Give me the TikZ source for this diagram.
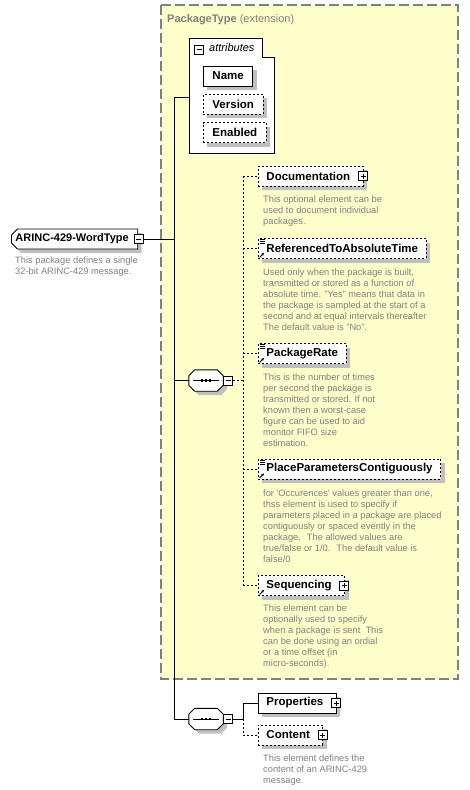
\documentclass[tikz,border=0pt]{standalone}
\usepackage{fontspec}
\setmainfont{Liberation Sans}
\usetikzlibrary{shapes.misc,shadows,arrows.meta}

\definecolor{extfill}{RGB}{255,255,204}
\definecolor{descgray}{RGB}{128,128,128}
\definecolor{shadegray}{RGB}{192,192,192}

\tikzset{
    shade/.style={drop shadow={shadow xshift=4pt, shadow yshift=-4pt, fill=shadegray, opacity=1}},
    elem/.style={draw, fill=white, line width=0.9pt, inner xsep=8pt, inner ysep=0pt,
        minimum height=20pt, anchor=west, shade, font=\bfseries\fontsize{11.5}{13}\selectfont},
    optelem/.style={elem, dash pattern=on 2pt off 2pt},
    attrelem/.style={elem, inner xsep=9pt},
    optattr/.style={attrelem, dash pattern=on 2pt off 2pt},
    root/.style={elem, chamfered rectangle, chamfered rectangle corners={north west,south west},
        chamfered rectangle xsep=3pt, chamfered rectangle ysep=3pt, inner xsep=1pt, font=\bfseries\fontsize{11}{13}\selectfont},
    seqbox/.style={inner sep=0pt, minimum width=34pt, minimum height=21pt},
    desc/.style={anchor=north west, inner sep=0pt, align=left, text=descgray,
        font=\fontsize{9.3}{11}\selectfont},
    pmbox/.style={draw, fill=white, line width=0.8pt, minimum size=9pt, inner sep=0pt},
    minus/.style={pmbox, path picture={\draw[line width=0.8pt] ([xshift=2pt]path picture bounding box.west) -- ([xshift=-2pt]path picture bounding box.east);}},
    plus/.style={pmbox, path picture={\draw[line width=0.8pt] ([xshift=2pt]path picture bounding box.west) -- ([xshift=-2pt]path picture bounding box.east)
        ([yshift=-2pt]path picture bounding box.north) -- ([yshift=2pt]path picture bounding box.south);}},
    conn/.style={line width=0.9pt},
    optconn/.style={conn, dash pattern=on 2pt off 2pt}
}

\newcommand{\arrowmark}[1]{\draw[line width=0.8pt, -{Stealth[length=3pt,width=3pt]}] ([shift={(1.5,-1.5)}]#1.south west) -- +(4.5,-4.5);}
\newcommand{\refmark}[1]{%
    \draw[line width=0.6pt] ([shift={(2,1.5)}]#1.north west) -- +(5,0)
        ([shift={(2,3.5)}]#1.north west) -- +(5,0) ([shift={(2,5.5)}]#1.north west) -- +(5,0);
    \arrowmark{#1}}
\newcommand{\seqicon}[1]{%
    \draw[line width=0.9pt, fill=white, shade] ([xshift=6pt]#1.north west) -- ([xshift=-6pt]#1.north east)
        -- ([yshift=-6pt]#1.north east) -- ([yshift=6pt]#1.south east) -- ([xshift=-6pt]#1.south east)
        -- ([xshift=6pt]#1.south west) -- ([yshift=6pt]#1.south west) -- ([yshift=-6pt]#1.north west) -- cycle;
    \draw[line width=0.8pt] ([xshift=4pt]#1.west) -- ([xshift=-4pt]#1.east);
    \foreach \dx in {-4,0,4} \fill ([xshift=\dx pt]#1.center) +(-1.2,-1.2) rectangle +(1.2,1.2);}

\begin{document}
\begin{tikzpicture}[x=1pt, y=-1pt]
    \useasboundingbox (0,0) rectangle (469,790);

    % extension frame
    \draw[draw=descgray, line width=1.2pt, dash pattern=on 10pt off 4pt, fill=extfill] (161,5) rectangle (458,679);
    \node[anchor=west, inner sep=0pt, text=descgray, font=\fontsize{11}{13}\selectfont] (title) at (167,19.5) {\bfseries PackageType \mdseries(extension)};

    % attributes
    \draw[line width=0.9pt, fill=white] (189,38) -- (262,38) -- (262,57) -- (274,57) -- (274,153) -- (189,153) -- cycle;
    \coordinate (attrs) at (189,97);
    \node[minus] (attrm) at (199,49.5) {};
    \node[anchor=west, inner sep=0pt, font=\itshape\fontsize{11}{13}\selectfont] (attrt) at (209,48) {attributes};
    \node[attrelem] (name) at (203,76) {Name};
    \node[optattr] (version) at (203,104) {Version};
    \node[optattr] (enabled) at (203,132.5) {Enabled};

    % root element
    \node[root] (arinc) at (11,239) {ARINC-429-WordType\kern5pt};
    \node[minus] (arincm) at ([xshift=0.5pt]arinc.east) {};
    \node[desc] (arincd) at (15,257) {This package defines a single\\32-bit ARINC-429 message.};

    % sequences
    \node[seqbox] (seqa) at (206,380.5) {};
    \seqicon{seqa}
    \node[minus, anchor=west] (seqam) at (seqa.east) {};
    \node[seqbox] (seqb) at (206,719) {};
    \seqicon{seqb}
    \node[minus, anchor=west] (seqbm) at (seqb.east) {};

    % child elements
    \node[optelem] (doc) at (258,176) {Documentation\kern5pt};
    \node[plus] (docp) at ([xshift=-0.5pt]doc.east) {};
    \node[desc] (docd) at (263,196) {This optional element can be\\used to document individual\\packages.};

    \node[optelem] (rta) at (258,248.5) {ReferencedToAbsoluteTime};
    \refmark{rta}
    \node[desc] (rtad) at (263,269) {Used only when the package is built,\\transmitted or stored as a function of\\absolute time. "Yes" means that data in\\the package is sampled at the start of a\\second and at equal intervals thereafter\\The default value is "No".};

    \node[optelem] (prate) at (258,353.5) {PackageRate};
    \refmark{prate}
    \node[desc] (prated) at (263,374) {This is the number of times\\per second the package is\\transmitted or stored. If not\\known then a worst-case\\figure can be used to aid\\monitor FIFO size\\estimation.};

    \node[optelem] (ppc) at (258,469) {PlaceParametersContiguously};
    \refmark{ppc}
    \node[desc] (ppcd) at (263,490) {for \textquotesingle Occurences\textquotesingle{} values greater than one,\\thss element is used to specify if\\parameters placed in a package are placed\\contiguously or spaced evently in the\\package.~ The allowed values are\\true/false or 1/0.~ The default value is\\false/0};

    \node[optelem] (seqg) at (258,585.5) {Sequencing\kern5pt};
    \node[plus] (seqgp) at ([xshift=-1pt]seqg.east) {};
    \arrowmark{seqg}
    \node[desc] (seqgd) at (263,605) {This element can be\\optionally used to specify\\when a package is sent~ This\\can be done using an ordial\\or a time offset (in\\micro-seconds).};

    \node[elem] (props) at (258,703) {Properties\kern5pt};
    \node[plus] (propsp) at ([xshift=-0.5pt]props.east) {};
    \node[optelem] (cont) at (258,735) {Content\kern5pt};
    \node[plus] (contp) at ([xshift=-0.5pt]cont.east) {};
    \node[desc] (contd) at (263,755) {This element defines the\\content of an ARINC-429\\message.};

    % connectors
    \coordinate (trunk) at (174,0);
    \coordinate (cola) at (243,0);
    \draw[conn] (arincm.east) -- (arincm.east -| trunk);
    \draw[conn] (attrs) -- (attrs -| trunk) -- (trunk |- seqb.west) -- (seqb.west);
    \draw[conn] (seqa.west -| trunk) -- (seqa.west);

    \draw[optconn] (seqam.east) -- (seqam.east -| cola);
    \draw[optconn] (cola |- doc.west) -- (cola |- seqg.west);
    \draw[optconn] (cola |- doc.west) -- (doc.west);
    \draw[optconn] (cola |- rta.west) -- (rta.west);
    \draw[optconn] (cola |- prate.west) -- (prate.west);
    \draw[optconn] (cola |- ppc.west) -- (ppc.west);
    \draw[optconn] (cola |- seqg.west) -- (seqg.west);

    \draw[conn] (seqbm.east) -- (seqbm.east -| cola) -- (cola |- props.west) -- (props.west);
    \draw[optconn] (seqbm.east -| cola) -- (cola |- cont.west) -- (cont.west);
\end{tikzpicture}
\end{document}
